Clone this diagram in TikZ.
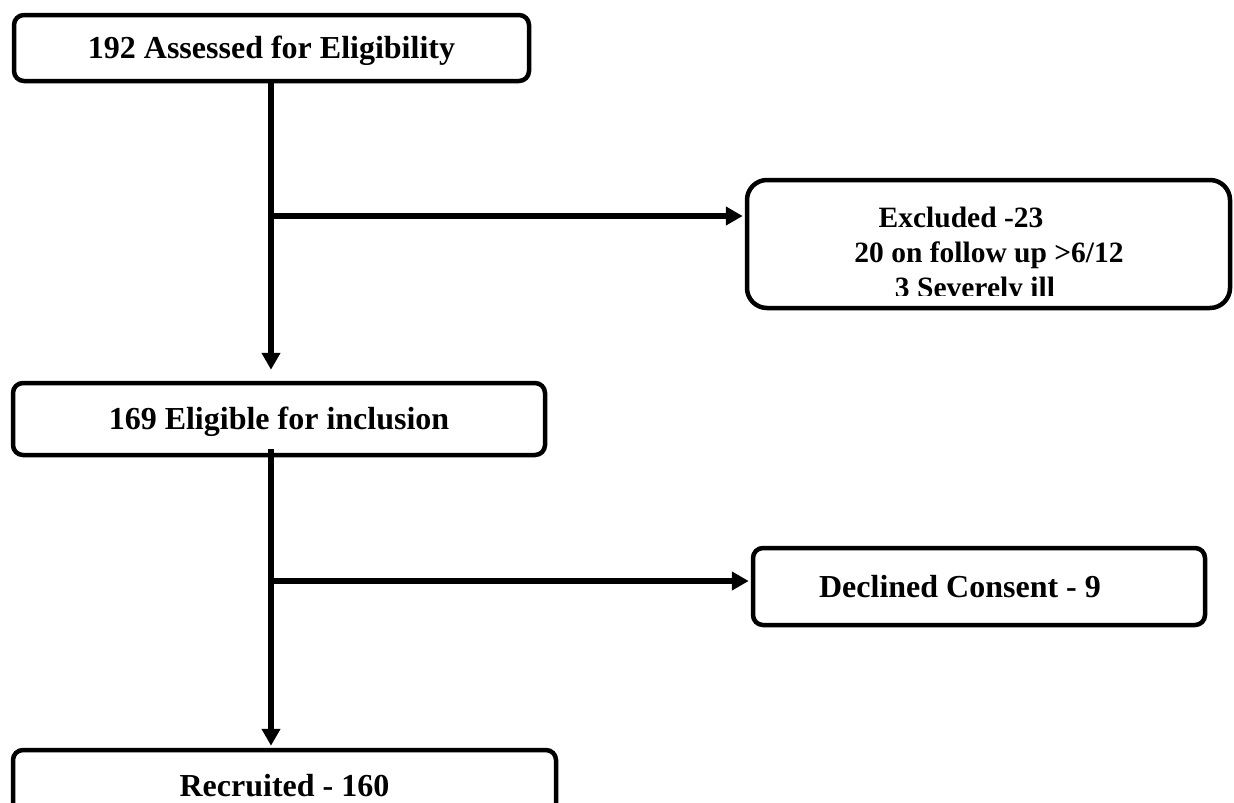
\documentclass[tikz,border=0pt]{standalone}
\usepackage{fontspec}
\setmainfont{Liberation Serif}
\usetikzlibrary{arrows.meta}
\begin{document}
\begin{tikzpicture}[x=1pt,y=-1pt,
  box/.style={draw=black, line width=4.5pt, rounded corners=10pt, rectangle, inner sep=0pt,
    font=\bfseries\fontsize{32}{37}\selectfont, text height=21.2pt, text depth=0pt},
  txt/.style={inner sep=0pt, anchor=base, font=\bfseries\fontsize{29.5}{35}\selectfont},
  flow/.style={line width=6pt, -{Triangle[length=17pt,width=18pt]}}]
\useasboundingbox (0,0) rectangle (1234,803);
\clip (0,0) rectangle (1234,803);
% boxes
\node[box, minimum width=515pt, minimum height=66pt] (b1) at (271.5,48) {192 Assessed for Eligibility};
\node[box, rounded corners=20pt, minimum width=483pt, minimum height=128pt] (ex) at (988.5,244) {};
\node[box, minimum width=532pt, minimum height=72pt] (b2) at (279,419) {169 Eligible for inclusion};
\node[box, minimum width=452pt, minimum height=77pt] (dc) at (979,586.5) {};
\node[box, minimum width=543pt, minimum height=72pt] (b3) at (284.5,786) {Recruited - 160};
% texts
\node[txt] (ex1) at (961,227) {Excluded -23};
\node[txt] (ex2) at (989,262) {20 on follow up >6/12};
\begin{scope}
  \clip (750,270) rectangle (1225,295);
  \node[txt] (ex3) at (975,297) {3 Severely ill};
\end{scope}
\node[box, draw=none, fill=none] (dct) at (960,586.5) {Declined Consent - 9};
% junctions
\coordinate (j1) at (271,216);
\coordinate (j2) at (271,581);
% connectors
\draw[flow] (b1.south -| j1) -- ([yshift=11pt]b2.north -| j1);
\draw[flow] (j1) -- ([xshift=-2pt]ex.west |- j1);
\draw[flow] ([yshift=8pt]b2.south -| j2) -- ([yshift=2pt]b3.north -| j2);
\draw[flow] (j2) -- ([xshift=-2pt]dc.west |- j2);
\end{tikzpicture}
\end{document}
